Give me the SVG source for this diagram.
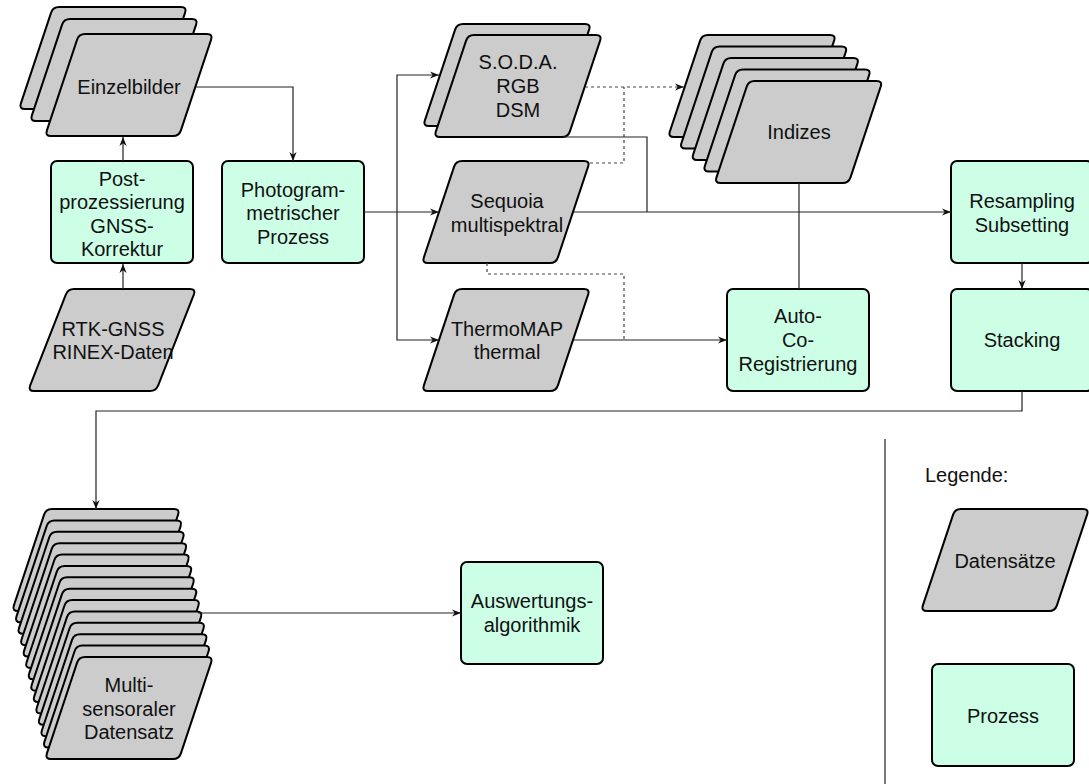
<svg xmlns="http://www.w3.org/2000/svg" xmlns:xlink="http://www.w3.org/1999/xlink" width="1089" height="784" viewBox="0 0 1089 784">
<style>
.data{fill:#cccccc;stroke:#000;stroke-width:2;}
.proc{fill:#ccffe6;stroke:#000;stroke-width:2;}
.t{font-family:"Liberation Sans",Arial,Helvetica,sans-serif;font-size:20px;fill:#111;text-anchor:middle;}
.e{fill:none;stroke:#222;stroke-width:1.2;}
.d{fill:none;stroke:#444;stroke-width:1.2;stroke-dasharray:3 3;}
</style>
<defs>
<path id="pg" d="M40,0 L162,0 Q168,0 166.1,5.69 L135.9,96.31 Q134,102 128,102 L6,102 Q0,102 1.9,96.31 L32.1,5.69 Q34,0 40,0 Z"/>
<path id="pg40" d="M46,0 L162,0 Q168,0 165.81,5.59 L130.19,96.41 Q128,102 122,102 L6,102 Q0,102 2.19,96.41 L37.81,5.59 Q40,0 46,0 Z"/>
<marker id="arr" viewBox="0 0 10 10" refX="10" refY="5" markerWidth="9" markerHeight="9" markerUnits="userSpaceOnUse" orient="auto">
<path d="M0,1 L10,5 L0,9 L3,5 Z" fill="#111"/>
</marker>
</defs>

<g id="einzelbilder">
<use href="#pg" class="data" x="19" y="7"/>
<use href="#pg" class="data" x="30" y="19"/>
<use href="#pg" class="data" x="45" y="34"/>
<text class="t" x="129" y="94">Einzelbilder</text>
</g>
<g id="postprozessierung">
<rect class="proc" x="51" y="161" width="142" height="102" rx="6"/>
<text class="t" x="122" y="186">Post-</text>
<text class="t" x="122" y="209">prozessierung</text>
<text class="t" x="122" y="233">GNSS-</text>
<text class="t" x="122" y="256">Korrektur</text>
</g>
<g id="rtk">
<use href="#pg40" class="data" x="28" y="289"/>
<text class="t" x="113" y="336">RTK-GNSS</text>
<text class="t" x="113" y="359">RINEX-Daten</text>
</g>
<g id="photogrammetrie">
<rect class="proc" x="222" y="161" width="142" height="102" rx="6"/>
<text class="t" x="293" y="197">Photogram-</text>
<text class="t" x="293" y="220">metrischer</text>
<text class="t" x="293" y="244">Prozess</text>
</g>
<g id="soda">
<use href="#pg" class="data" x="423" y="24"/>
<use href="#pg" class="data" x="434" y="35"/>
<text class="t" x="518" y="69">S.O.D.A.</text>
<text class="t" x="518" y="93">RGB</text>
<text class="t" x="518" y="117">DSM</text>
</g>
<g id="sequoia">
<use href="#pg" class="data" x="422" y="161"/>
<text class="t" x="507" y="208">Sequoia</text>
<text class="t" x="507" y="232">multispektral</text>
</g>
<g id="thermomap">
<use href="#pg" class="data" x="422" y="289"/>
<text class="t" x="507" y="336">ThermoMAP</text>
<text class="t" x="507" y="359">thermal</text>
</g>
<g id="indizes">
<use href="#pg" class="data" x="668" y="35"/>
<use href="#pg" class="data" x="679.6" y="46.5"/>
<use href="#pg" class="data" x="691.3" y="58"/>
<use href="#pg" class="data" x="703" y="69.5"/>
<use href="#pg" class="data" x="714.6" y="81"/>
<text class="t" x="799" y="139">Indizes</text>
</g>
<g id="resampling">
<rect class="proc" x="951" y="161" width="142" height="102" rx="6"/>
<text class="t" x="1022" y="208">Resampling</text>
<text class="t" x="1022" y="232">Subsetting</text>
</g>
<g id="stacking">
<rect class="proc" x="951" y="289" width="142" height="102" rx="6"/>
<text class="t" x="1022" y="347">Stacking</text>
</g>
<g id="autoco">
<rect class="proc" x="727" y="289" width="142" height="102" rx="6"/>
<text class="t" x="798" y="323">Auto-</text>
<text class="t" x="798" y="347">Co-</text>
<text class="t" x="798" y="371">Registrierung</text>
</g>
<g id="multisensoral">
<use href="#pg" class="data" x="12" y="509"/>
<use href="#pg" class="data" x="14.54" y="520.38"/>
<use href="#pg" class="data" x="17.08" y="531.76"/>
<use href="#pg" class="data" x="19.62" y="543.14"/>
<use href="#pg" class="data" x="22.16" y="554.52"/>
<use href="#pg" class="data" x="24.7" y="565.9"/>
<use href="#pg" class="data" x="27.24" y="577.28"/>
<use href="#pg" class="data" x="29.78" y="588.66"/>
<use href="#pg" class="data" x="32.32" y="600.04"/>
<use href="#pg" class="data" x="34.86" y="611.42"/>
<use href="#pg" class="data" x="37.4" y="622.8"/>
<use href="#pg" class="data" x="39.94" y="634.18"/>
<use href="#pg" class="data" x="42.48" y="645.56"/>
<use href="#pg" class="data" x="45" y="657"/>
<text class="t" x="129" y="692">Multi-</text>
<text class="t" x="129" y="716">sensoraler</text>
<text class="t" x="129" y="739">Datensatz</text>
</g>
<g id="auswertung">
<rect class="proc" x="461" y="562" width="142" height="102" rx="6"/>
<text class="t" x="532" y="608">Auswertungs-</text>
<text class="t" x="532" y="632">algorithmik</text>
</g>
<g id="legende">
<line x1="885" y1="439" x2="885" y2="784" stroke="#222" stroke-width="1.2"/>
<text class="t" x="925" y="482" style="text-anchor:start">Legende:</text>
<use href="#pg" class="data" x="921" y="509"/>
<text class="t" x="1005" y="568">Datensätze</text>
<rect class="proc" x="932" y="664" width="142" height="102" rx="6"/>
<text class="t" x="1003" y="723">Prozess</text>
</g>

<g id="connectors">
<polyline class="e" points="123,289 123,264" marker-end="url(#arr)"/>
<polyline class="e" points="123,161 123,137" marker-end="url(#arr)"/>
<polyline class="e" points="196,87 293,87 293,161" marker-end="url(#arr)"/>
<polyline class="e" points="364,212 439,212" marker-end="url(#arr)"/>
<polyline class="e" points="397,212 397,75 439,75" marker-end="url(#arr)"/>
<polyline class="e" points="397,212 397,340 439,340" marker-end="url(#arr)"/>
<polyline class="d" points="585,87 684,87" marker-end="url(#arr)"/>
<polyline class="d" points="590,163 624,163 624,87"/>
<polyline class="d" points="487,263 487,274 624,274 624,340"/>
<polyline class="e" points="563,137 647,137 647,212"/>
<polyline class="e" points="574,212 951,212" marker-end="url(#arr)"/>
<polyline class="e" points="574,340 727,340" marker-end="url(#arr)"/>
<polyline class="e" points="799,183 799,289"/>
<polyline class="e" points="1022,263 1022,289" marker-end="url(#arr)"/>
<polyline class="e" points="1022,391 1022,411 96,411 96,509" marker-end="url(#arr)"/>
<polyline class="e" points="198,613 461,613" marker-end="url(#arr)"/>
</g>
</svg>
